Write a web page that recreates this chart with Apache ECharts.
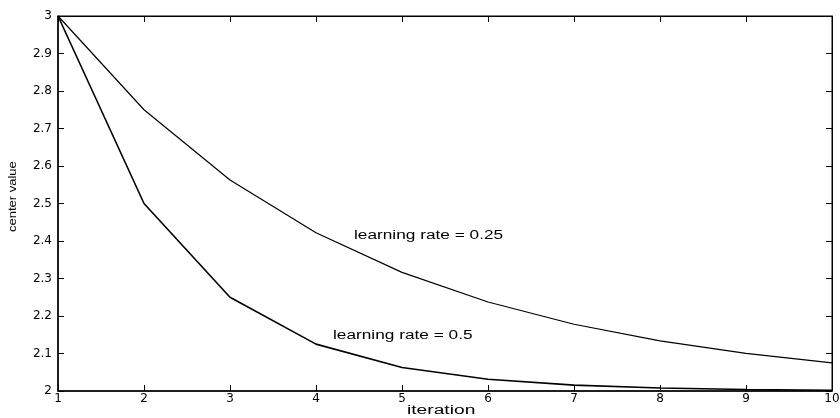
<!DOCTYPE html>
<html>
<head>
<meta charset="utf-8">
<script src="https://cdn.jsdelivr.net/npm/echarts@6/dist/echarts.min.js"></script>
<style>
  html, body { margin: 0; padding: 0; background: #fff; }
  #chart { width: 840px; height: 418px; }
</style>
</head>
<body>
<div id="chart"></div>
<script>
// iterations on the x axis
const iterations = [1, 2, 3, 4, 5, 6, 7, 8, 9, 10];
// center value per iteration
const rate025 = [3, 2.75, 2.5625, 2.4219, 2.3164, 2.2373, 2.178, 2.1335, 2.1001, 2.0751];
const rate05 = [3, 2.5, 2.25, 2.125, 2.0625, 2.0313, 2.0156, 2.0078, 2.0039, 2.002];

const font = 'Liberation Sans, Arial, sans-serif';
const tickFont = 'DejaVu Sans, sans-serif';

const chart = echarts.init(document.getElementById('chart'));

const tickInside = { show: true, inside: true, length: 6, lineStyle: { color: '#000', width: 1 } };

chart.setOption({
  animation: false,
  grid: {
    left: 58, right: 8, top: 16, bottom: 27, outerBoundsMode: 'none',
    show: true, borderColor: '#000', borderWidth: 1
  },
  xAxis: [
    {
      type: 'value', min: 1, max: 10, interval: 1,
      axisLine: { show: true, lineStyle: { color: '#000', width: 1.5 } },
      axisTick: tickInside,
      axisLabel: { fontFamily: tickFont, fontSize: 12, color: '#000', margin: 2 },
      splitLine: { show: false }
    },
    {
      type: 'value', min: 1, max: 10, interval: 1, position: 'top',
      axisLine: { show: true, lineStyle: { color: '#000' } },
      axisTick: tickInside, axisLabel: { show: false }, splitLine: { show: false }
    }
  ],
  yAxis: [
    {
      type: 'value', min: 2, max: 3, interval: 0.1,
      axisLine: { show: true, lineStyle: { color: '#000', width: 1.5 } },
      axisTick: tickInside,
      axisLabel: {
        fontFamily: tickFont, fontSize: 12, color: '#000', margin: 6,
        formatter: v => String(Math.round(v * 10) / 10)
      },
      splitLine: { show: false }
    },
    {
      type: 'value', min: 2, max: 3, interval: 0.1, position: 'right',
      axisLine: { show: true, lineStyle: { color: '#000' } },
      axisTick: tickInside, axisLabel: { show: false }, splitLine: { show: false }
    }
  ],
  series: [
    {
      type: 'line', name: 'learning rate = 0.25', showSymbol: false,
      data: iterations.map((x, i) => [x, rate025[i]]),
      lineStyle: { color: '#000', width: 1.2 }
    },
    {
      type: 'line', name: 'learning rate = 0.5', showSymbol: false,
      data: iterations.map((x, i) => [x, rate05[i]]),
      lineStyle: { color: '#000', width: 1.6 }
    }
  ],
  graphic: [
    {
      type: 'text', x: 354, y: 229, scaleX: 1.38,
      style: { text: 'learning rate = 0.25', font: '12.5px ' + font, fill: '#000' }
    },
    {
      type: 'text', x: 333, y: 329, scaleX: 1.38,
      style: { text: 'learning rate = 0.5', font: '12.5px ' + font, fill: '#000' }
    },
    {
      type: 'text', x: 407, y: 405, scaleX: 1.6,
      style: { text: 'iteration', font: '12px ' + font, fill: '#000' }
    },
    {
      type: 'text', x: 8, y: 232, rotation: Math.PI / 2, scaleX: 1.3,
      style: { text: 'center value', font: '10px ' + font, fill: '#000' }
    }
  ]
});
</script>
</body>
</html>
